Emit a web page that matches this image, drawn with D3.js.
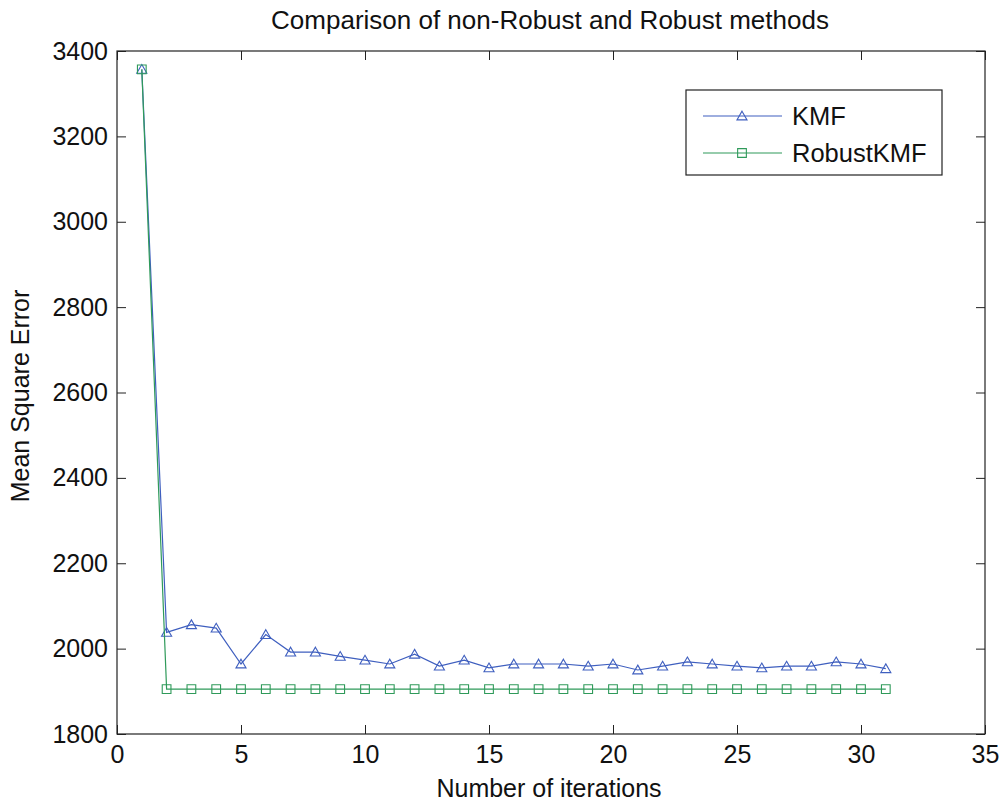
<!DOCTYPE html>
<html><head><meta charset="utf-8">
<script src="https://cdn.jsdelivr.net/npm/d3@7"></script>
<style>body{margin:0;background:#fff}svg{font-family:"Liberation Sans",Arial,sans-serif}</style>
</head><body>
<script>
const iterations = d3.range(1, 32);
const kmf = [3357,2038,2056,2048,1964,2033,1992,1992,1982,1973,1964,1987,1959,1973,1955,1964,1964,1964,1959,1964,1950,1959,1969,1964,1959,1955,1959,1959,1969,1964,1953];
const robust = [3357,1905,1905,1905,1905,1905,1905,1905,1905,1905,1905,1905,1905,1905,1905,1905,1905,1905,1905,1905,1905,1905,1905,1905,1905,1905,1905,1905,1905,1905,1905];
const xTicks = [0,5,10,15,20,25,30,35];
const yTicks = [1800,2000,2200,2400,2600,2800,3000,3200,3400];
const seriesNames = ["KMF","RobustKMF"];
const colors = ["#3f5fbf","#2f9a5a"];

const W=1007,H=805;
const m={l:117,r:985,t:51,b:734};
const svg=d3.select("body").append("svg").attr("width",W).attr("height",H);
const x=d3.scaleLinear().domain([0,35]).range([m.l,m.r]);
const y=d3.scaleLinear().domain([1800,3400]).range([m.b,m.t]);
const FS=25;

svg.append("rect").attr("x",m.l).attr("y",m.t).attr("width",m.r-m.l).attr("height",m.b-m.t).attr("fill","#fff").attr("stroke","#222").attr("stroke-width",1.2);

const tl=9;
const gx=svg.append("g").attr("transform",`translate(0,${m.b})`).call(d3.axisBottom(x).tickValues(xTicks).tickSize(-tl).tickPadding(11).tickFormat(d3.format("d")));
const gxt=svg.append("g").attr("transform",`translate(0,${m.t})`).call(d3.axisTop(x).tickValues(xTicks).tickSize(-tl).tickFormat(""));
const gy=svg.append("g").attr("transform",`translate(${m.l},0)`).call(d3.axisLeft(y).tickValues(yTicks).tickSize(-tl).tickPadding(9).tickFormat(d3.format("d")));
const gyr=svg.append("g").attr("transform",`translate(${m.r},0)`).call(d3.axisRight(y).tickValues(yTicks).tickSize(-tl).tickFormat(""));
[gx,gxt,gy,gyr].forEach(g=>{g.select(".domain").remove();g.selectAll("line").attr("stroke","#222");g.selectAll("text").attr("font-size",FS).attr("fill","#111").attr("font-family","Liberation Sans, Arial, sans-serif");});

const data=[kmf,robust];
const tri=d3.symbol().type(d3.symbolTriangle).size(44);
const sq=d3.symbol().type(d3.symbolSquare).size(76);
data.forEach((vals,i)=>{
  const pts=iterations.map((it,j)=>[it,vals[j]]);
  svg.append("path").datum(pts).attr("fill","none").attr("stroke",colors[i]).attr("stroke-width",1.2)
    .attr("d",d3.line().x(d=>x(d[0])).y(d=>y(d[1])));
  svg.append("g").selectAll("path").data(pts).join("path")
    .attr("transform",d=>`translate(${x(d[0])},${y(d[1])+(i===0?1:0)})`)
    .attr("d",i===0?tri:sq).attr("fill","none").attr("stroke",colors[i]).attr("stroke-width",1.1);
});

// legend
const lg=svg.append("g");
lg.append("rect").attr("x",686).attr("y",90).attr("width",256).attr("height",85).attr("fill","#fff").attr("stroke","#222").attr("stroke-width",1.2);
seriesNames.forEach((n,i)=>{
  const yy=116+i*37;
  lg.append("line").attr("x1",703).attr("x2",782).attr("y1",yy).attr("y2",yy).attr("stroke",colors[i]).attr("stroke-width",1.2);
  lg.append("path").attr("transform",`translate(742,${yy+(i===0?1:0)})`).attr("d",i===0?tri:sq).attr("fill","none").attr("stroke",colors[i]).attr("stroke-width",1.1);
  lg.append("text").attr("x",792).attr("y",yy+9).attr("font-size",FS+0.5).attr("fill","#111").text(n);
});

svg.append("text").attr("x",550).attr("y",29).attr("text-anchor","middle").attr("font-size",26).attr("fill","#111").text("Comparison of non-Robust and Robust methods");
svg.append("text").attr("x",549).attr("y",797).attr("text-anchor","middle").attr("font-size",FS).attr("fill","#111").text("Number of iterations");
svg.append("text").attr("transform","translate(29,396) rotate(-90)").attr("text-anchor","middle").attr("font-size",FS).attr("fill","#111").text("Mean Square Error");
</script>
</body></html>
